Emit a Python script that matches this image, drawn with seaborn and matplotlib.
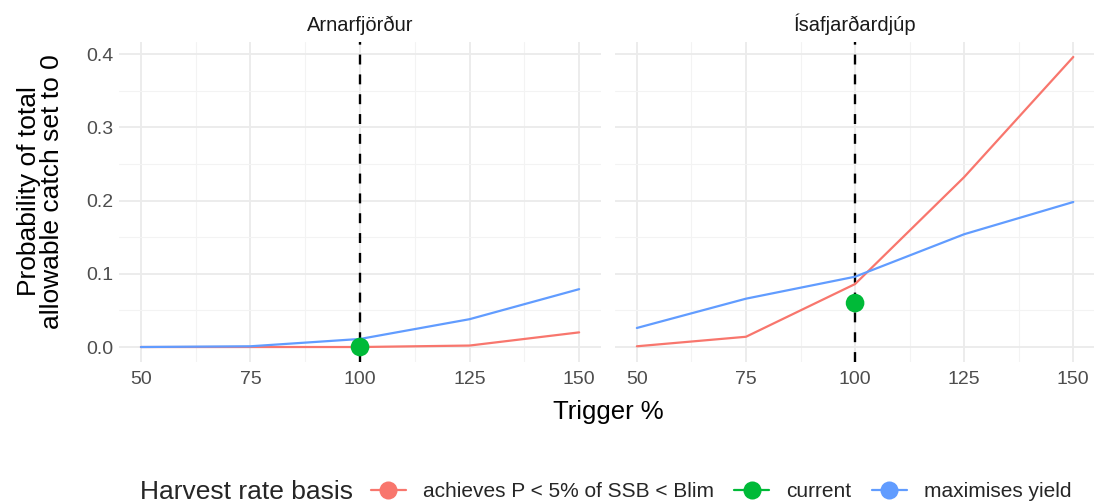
import matplotlib
matplotlib.use("Agg")
import matplotlib.pyplot as plt
from matplotlib.lines import Line2D
import seaborn as sns
import pandas as pd
import numpy as np

sns.set_theme(style="whitegrid")
plt.rcParams['font.family'] = ['Liberation Sans', 'DejaVu Sans']

triggers = [50, 75, 100, 125, 150]
panels = ["Arnarfjörður", "Ísafjarðardjúp"]
groups = ["achieves P < 5% of SSB < Blim", "current", "maximises yield"]
colors = {"achieves P < 5% of SSB < Blim": "#F8766D", "current": "#00BA38", "maximises yield": "#619CFF"}

arn_achieves = [0.0, 0.0, 0.0, 0.002, 0.020]
arn_maxyield = [0.0, 0.001, 0.011, 0.038, 0.079]
arn_current_x = [100]
arn_current_y = [0.0]

isa_achieves = [0.001, 0.014, 0.086, 0.232, 0.396]
isa_maxyield = [0.026, 0.066, 0.096, 0.154, 0.198]
isa_current_x = [100]
isa_current_y = [0.060]

lines = {
    "Arnarfjörður": {"achieves P < 5% of SSB < Blim": arn_achieves, "maximises yield": arn_maxyield},
    "Ísafjarðardjúp": {"achieves P < 5% of SSB < Blim": isa_achieves, "maximises yield": isa_maxyield},
}
points = {
    "Arnarfjörður": (arn_current_x, arn_current_y),
    "Ísafjarðardjúp": (isa_current_x, isa_current_y),
}

fig = plt.figure(figsize=(10.94, 5.04), dpi=100)
axes = [fig.add_axes([0.1088, 0.2827, 0.4406, 0.633]),
        fig.add_axes([0.5622, 0.2827, 0.4388, 0.633])]

for ax, panel in zip(axes, panels):
    rows = []
    for g, vals in lines[panel].items():
        for t, v in zip(triggers, vals):
            rows.append({"trigger": t, "prob": v, "basis": g})
    df = pd.DataFrame(rows)
    ax.set_facecolor("white")
    ax.axvline(100, color="black", linestyle=(0, (4.2, 4.2)), lw=1.7, zorder=2)
    sns.lineplot(data=df, x="trigger", y="prob", hue="basis", palette=colors,
                 ax=ax, legend=False, lw=1.6, zorder=3)
    px, py = points[panel]
    sns.scatterplot(x=px, y=py, color=colors["current"], s=180, ax=ax,
                    legend=False, zorder=4, edgecolor="none")
    ax.set_xlim(45, 155)
    ax.set_ylim(-0.0198, 0.4158)
    ax.set_xticks([50, 75, 100, 125, 150])
    ax.set_xticks([62.5, 87.5, 112.5, 137.5], minor=True)
    ax.set_yticks([0.0, 0.1, 0.2, 0.3, 0.4])
    ax.set_yticks([0.05, 0.15, 0.25, 0.35], minor=True)
    ax.grid(which="major", color="#EBEBEB", lw=1.3)
    ax.grid(which="minor", color="#F3F3F3", lw=0.8)
    ax.set_axisbelow(True)
    for s in ax.spines.values():
        s.set_visible(False)
    ax.tick_params(axis="both", which="both", length=0, labelsize=14,
                   labelcolor="#4D4D4D")
    ax.tick_params(axis="x", pad=7)
    ax.tick_params(axis="y", pad=4)
    ax.set_xlabel("")
    ax.set_ylabel("")
    ax.set_title(panel, fontsize=14.5, color="#1A1A1A", pad=8)

axes[0].set_yticklabels(["0.0", "0.1", "0.2", "0.3", "0.4"])
axes[1].set_yticklabels([])

fig.text(0.556, 0.183, "Trigger %", ha="center", va="center", fontsize=18.5, color="black")
fig.text(0.037, 0.62, "Probability of total\nallowable catch set to 0", ha="center",
         va="center", rotation=90, fontsize=19, color="black", linespacing=0.95)

handles = [Line2D([0], [0], color=colors[g], lw=1.6, marker="o", markersize=13,
                  markeredgecolor="none") for g in groups]
fig.text(0.128, 0.024, "Harvest rate basis", fontsize=19, va="center", ha="left")
fig.legend(handles, groups, loc="center left", bbox_to_anchor=(0.339, 0.024), ncol=3,
           frameon=False, fontsize=15, handlelength=1.68, handletextpad=0.83,
           columnspacing=0.96, borderpad=0, borderaxespad=0)

fig.savefig("out.png", dpi=100, facecolor="white")
